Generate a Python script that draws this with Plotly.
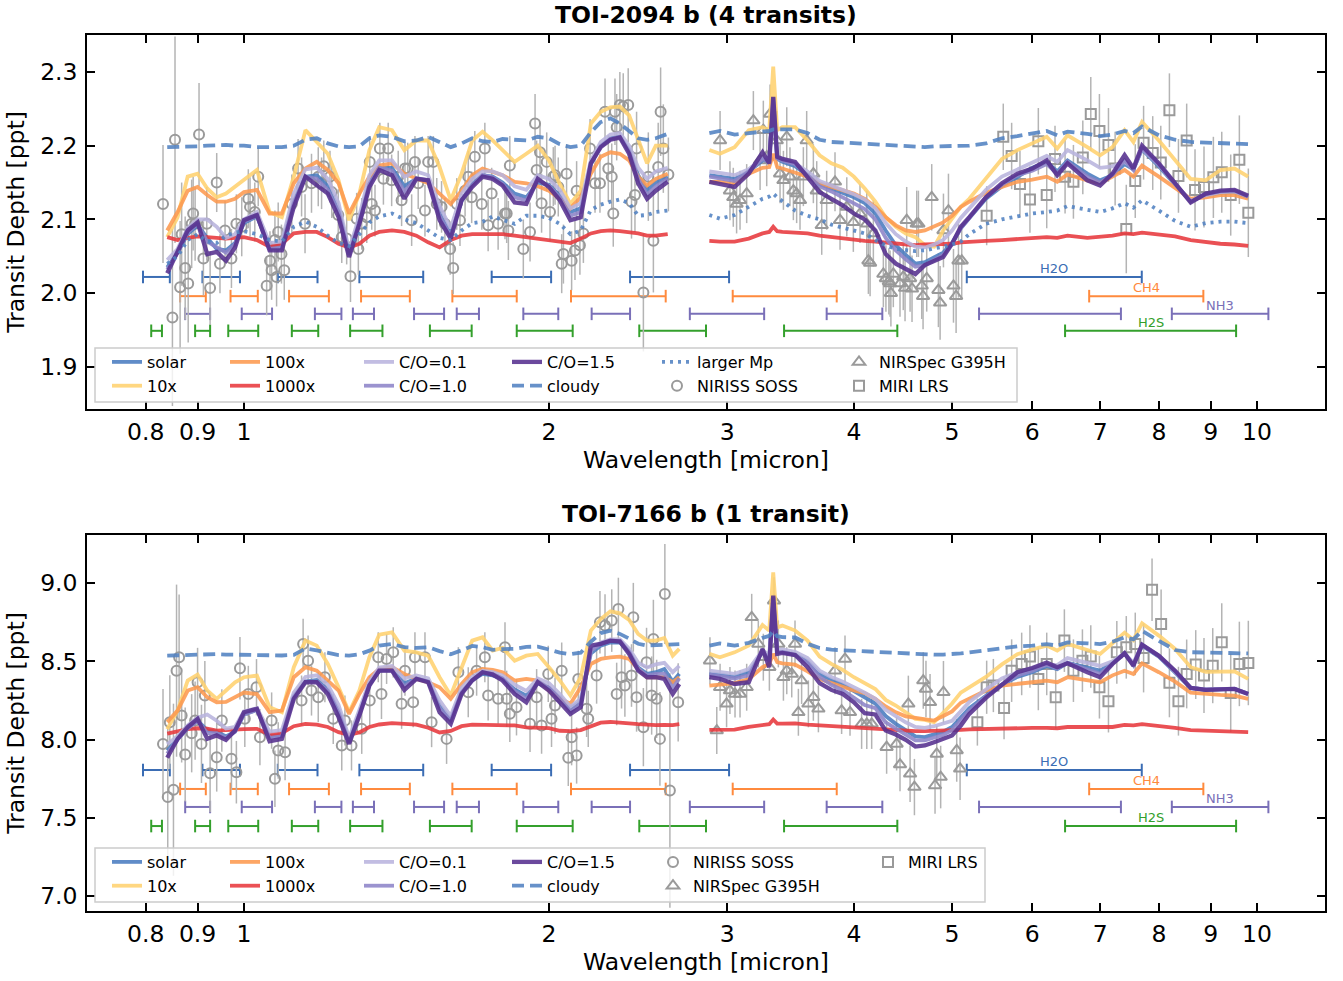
import math
import plotly.graph_objects as go

FONT = "DejaVu Sans"

# ---------------- model wavelength grids (micron) ----------------
WL_NIR_2094 = [0.84, 0.86, 0.88, 0.90, 0.92, 0.94, 0.96, 0.98, 1.00,
               1.03, 1.06, 1.09, 1.12, 1.15, 1.18, 1.21, 1.24, 1.27, 1.30, 1.33, 1.36,
               1.40, 1.44, 1.48, 1.52, 1.56, 1.60, 1.64, 1.68, 1.72, 1.76, 1.80,
               1.85, 1.90, 1.95, 2.00, 2.05, 2.10, 2.15, 2.20, 2.25, 2.30, 2.35, 2.40, 2.45, 2.50, 2.55,
               2.62]
WL_NIR_7166 = [0.84, 0.86, 0.88, 0.90, 0.92, 0.94, 0.96, 0.98, 1.00,
               1.03, 1.06, 1.09, 1.12, 1.15, 1.18, 1.21, 1.24, 1.27, 1.30, 1.33, 1.36,
               1.40, 1.44, 1.48, 1.52, 1.56, 1.60, 1.64, 1.68, 1.72, 1.76, 1.80,
               1.85, 1.90, 1.95, 2.00, 2.05, 2.10, 2.15, 2.20, 2.25, 2.30, 2.35, 2.40, 2.45, 2.50, 2.55,
               2.60, 2.65, 2.69]
WL_IR = [2.88, 2.95, 3.05, 3.15, 3.25,
         3.30, 3.33, 3.36, 3.40,
         3.50, 3.60, 3.70, 3.80, 3.90, 4.00, 4.10, 4.20, 4.30, 4.40, 4.50, 4.60,
         4.70, 4.80, 4.90, 5.00, 5.10, 5.20,
         5.40, 5.60, 5.80, 6.00, 6.20,
         6.35, 6.50,
         6.80, 7.00, 7.20, 7.40,
         7.55, 7.70,
         8.00, 8.30, 8.60, 8.90, 9.20, 9.50, 9.80]

# ---------------- TOI-2094 b models (ppt) ----------------
t2094_solar_nir = [2.035, 2.055, 2.080, 2.092, 2.075, 2.060, 2.058, 2.068, 2.095,
                   2.104, 2.062, 2.065, 2.125, 2.158, 2.160, 2.145, 2.115, 2.055, 2.098, 2.150, 2.170,
                   2.170, 2.145, 2.155, 2.152, 2.110, 2.080, 2.125, 2.148, 2.160, 2.158, 2.150,
                   2.135, 2.130, 2.150, 2.147, 2.132, 2.110, 2.115, 2.175, 2.200, 2.210, 2.212, 2.195, 2.160, 2.140, 2.150,
                   2.158]
t2094_10x_nir = [2.076, 2.103, 2.158, 2.162, 2.142, 2.130, 2.135, 2.144, 2.153,
                 2.167, 2.110, 2.103, 2.158, 2.221, 2.205, 2.189, 2.153, 2.099, 2.135, 2.194, 2.225,
                 2.221, 2.194, 2.207, 2.207, 2.171, 2.126, 2.162, 2.207, 2.219, 2.207, 2.194,
                 2.178, 2.189, 2.200, 2.180, 2.148, 2.121, 2.139, 2.230, 2.246, 2.252, 2.253, 2.241, 2.207, 2.176, 2.200,
                 2.200]
t2094_100x_nir = [2.085, 2.110, 2.139, 2.144, 2.133, 2.124, 2.124, 2.128, 2.137,
                  2.140, 2.108, 2.108, 2.149, 2.169, 2.178, 2.167, 2.149, 2.108, 2.135, 2.158, 2.173,
                  2.176, 2.162, 2.155, 2.149, 2.135, 2.121, 2.139, 2.160, 2.169, 2.164, 2.160,
                  2.151, 2.149, 2.145, 2.139, 2.128, 2.115, 2.130, 2.162, 2.185, 2.191, 2.189, 2.180, 2.158, 2.146, 2.155,
                  2.162]
t2094_1000x_nir = [2.076, 2.072, 2.075, 2.077, 2.076, 2.075, 2.074, 2.075, 2.076,
                   2.072, 2.063, 2.067, 2.081, 2.083, 2.083, 2.076, 2.067, 2.062, 2.067, 2.078, 2.083,
                   2.085, 2.083, 2.078, 2.069, 2.062, 2.072, 2.078, 2.080, 2.080, 2.080, 2.080,
                   2.078, 2.076, 2.074, 2.072, 2.071, 2.068, 2.074, 2.081, 2.084, 2.085, 2.084, 2.083, 2.081, 2.078, 2.078,
                   2.080]
t2094_co01_nir = [2.045, 2.060, 2.088, 2.100, 2.100, 2.090, 2.075, 2.080, 2.100,
                  2.110, 2.068, 2.070, 2.135, 2.168, 2.170, 2.155, 2.122, 2.058, 2.105, 2.160, 2.180,
                  2.180, 2.158, 2.165, 2.160, 2.118, 2.088, 2.135, 2.155, 2.165, 2.165, 2.160,
                  2.145, 2.140, 2.160, 2.155, 2.140, 2.115, 2.122, 2.180, 2.205, 2.215, 2.217, 2.200, 2.170, 2.155, 2.165,
                  2.170]
t2094_co10_nir = [2.032, 2.055, 2.082, 2.094, 2.070, 2.062, 2.055, 2.066, 2.097,
                  2.105, 2.060, 2.062, 2.122, 2.158, 2.155, 2.140, 2.110, 2.052, 2.096, 2.148, 2.170,
                  2.166, 2.138, 2.156, 2.153, 2.105, 2.077, 2.126, 2.146, 2.160, 2.157, 2.148,
                  2.130, 2.126, 2.153, 2.146, 2.130, 2.105, 2.110, 2.176, 2.199, 2.209, 2.212, 2.192, 2.155, 2.134, 2.145,
                  2.155]
t2094_co15_nir = [2.027, 2.056, 2.085, 2.096, 2.053, 2.056, 2.044, 2.062, 2.099,
                  2.106, 2.058, 2.058, 2.117, 2.158, 2.146, 2.135, 2.103, 2.049, 2.094, 2.144, 2.167,
                  2.160, 2.128, 2.155, 2.153, 2.099, 2.074, 2.126, 2.144, 2.158, 2.155, 2.146,
                  2.123, 2.121, 2.155, 2.144, 2.126, 2.099, 2.103, 2.176, 2.198, 2.208, 2.211, 2.189, 2.149, 2.128, 2.139,
                  2.151]
t2094_cloudy_nir = [2.198, 2.198, 2.199, 2.199, 2.200, 2.201, 2.201, 2.200, 2.200,
                    2.198, 2.198, 2.198, 2.200, 2.208, 2.210, 2.203, 2.199, 2.198, 2.199, 2.210, 2.214,
                    2.212, 2.206, 2.207, 2.212, 2.205, 2.198, 2.203, 2.210, 2.206, 2.205, 2.209,
                    2.208, 2.207, 2.212, 2.210, 2.202, 2.198, 2.200, 2.218, 2.232, 2.237, 2.230, 2.220, 2.210, 2.208, 2.210,
                    2.216]
t2094_mp_nir = [2.040, 2.050, 2.072, 2.080, 2.070, 2.068, 2.078, 2.082, 2.084,
                2.080, 2.072, 2.070, 2.090, 2.097, 2.090, 2.078, 2.068, 2.064, 2.080, 2.096, 2.104,
                2.108, 2.100, 2.095, 2.085, 2.075, 2.072, 2.085, 2.095, 2.097, 2.104, 2.100,
                2.094, 2.105, 2.105, 2.102, 2.094, 2.080, 2.085, 2.113, 2.120, 2.124, 2.127, 2.122, 2.105, 2.106, 2.110,
                2.112]

t2094_solar_ir = [2.160, 2.158, 2.155, 2.165, 2.180,
                  2.180, 2.262, 2.182, 2.178,
                  2.172, 2.160, 2.148, 2.142, 2.136, 2.130, 2.122, 2.108, 2.085, 2.065, 2.052, 2.040,
                  2.042, 2.048, 2.055, 2.068, 2.088, 2.102,
                  2.128, 2.145, 2.157, 2.170, 2.178,
                  2.165, 2.180,
                  2.162, 2.153, 2.160, 2.175,
                  2.168, 2.195,
                  2.172, 2.147, 2.125, 2.133, 2.136, 2.137, 2.130]
t2094_10x_ir = [2.194, 2.189, 2.198, 2.221, 2.225,
                2.221, 2.307, 2.221, 2.225,
                2.225, 2.207, 2.187, 2.176, 2.170, 2.158, 2.142, 2.124, 2.103, 2.090, 2.081, 2.076,
                2.065, 2.063, 2.085, 2.101, 2.117, 2.128,
                2.155, 2.182, 2.194, 2.203, 2.212,
                2.196, 2.214,
                2.198, 2.187, 2.198, 2.221,
                2.205, 2.232,
                2.207, 2.180, 2.155, 2.153, 2.167, 2.169, 2.158]
t2094_100x_ir = [2.151, 2.151, 2.149, 2.162, 2.170,
                 2.171, 2.189, 2.171, 2.169,
                 2.163, 2.158, 2.149, 2.144, 2.139, 2.135, 2.128, 2.117, 2.103, 2.092, 2.085, 2.083,
                 2.085, 2.090, 2.096, 2.105, 2.117, 2.124,
                 2.136, 2.144, 2.151, 2.154, 2.158,
                 2.151, 2.161,
                 2.153, 2.149, 2.158, 2.167,
                 2.158, 2.173,
                 2.158, 2.142, 2.128, 2.130, 2.133, 2.133, 2.128]
t2094_1000x_ir = [2.071, 2.070, 2.070, 2.074, 2.081,
                  2.083, 2.090, 2.084, 2.083,
                  2.082, 2.081, 2.078, 2.076, 2.074, 2.072, 2.071, 2.070, 2.069, 2.068, 2.066, 2.065,
                  2.066, 2.066, 2.067, 2.067, 2.069, 2.070,
                  2.071, 2.072, 2.073, 2.075, 2.076,
                  2.075, 2.078,
                  2.075, 2.076, 2.078, 2.081,
                  2.080, 2.082,
                  2.080, 2.077, 2.072, 2.069, 2.067, 2.066, 2.064]
t2094_co01_ir = [2.165, 2.163, 2.160, 2.168, 2.183,
                 2.183, 2.255, 2.185, 2.182,
                 2.176, 2.165, 2.152, 2.146, 2.140, 2.134, 2.127, 2.115, 2.095, 2.080, 2.070, 2.063,
                 2.062, 2.066, 2.072, 2.085, 2.102, 2.115,
                 2.140, 2.158, 2.168, 2.178, 2.186,
                 2.178, 2.194,
                 2.180, 2.170, 2.172, 2.178,
                 2.170, 2.196,
                 2.174, 2.148, 2.125, 2.133, 2.137, 2.138, 2.131]
t2094_co10_ir = [2.158, 2.155, 2.152, 2.165, 2.182,
                 2.178, 2.265, 2.183, 2.180,
                 2.175, 2.160, 2.145, 2.138, 2.130, 2.122, 2.114, 2.100, 2.075, 2.058, 2.046, 2.036,
                 2.038, 2.045, 2.052, 2.067, 2.088, 2.102,
                 2.130, 2.147, 2.160, 2.166, 2.175,
                 2.162, 2.178,
                 2.158, 2.150, 2.160, 2.180,
                 2.167, 2.197,
                 2.174, 2.148, 2.124, 2.134, 2.138, 2.139, 2.131]
t2094_co15_ir = [2.151, 2.148, 2.144, 2.162, 2.191,
                 2.176, 2.266, 2.185, 2.182,
                 2.178, 2.158, 2.137, 2.128, 2.119, 2.108, 2.100, 2.085, 2.053, 2.040, 2.033, 2.026,
                 2.038, 2.044, 2.049, 2.067, 2.090, 2.103,
                 2.130, 2.149, 2.162, 2.169, 2.180,
                 2.160, 2.176,
                 2.153, 2.146, 2.162, 2.187,
                 2.169, 2.200,
                 2.176, 2.149, 2.123, 2.135, 2.139, 2.140, 2.132]
t2094_cloudy_ir = [2.217, 2.220, 2.215, 2.217, 2.219,
                   2.220, 2.222, 2.222, 2.223,
                   2.222, 2.217, 2.208, 2.205, 2.204, 2.203, 2.203, 2.202, 2.201, 2.200, 2.199, 2.198,
                   2.198, 2.199, 2.199, 2.199, 2.199, 2.200,
                   2.203, 2.210, 2.213, 2.217, 2.220,
                   2.214, 2.219,
                   2.216, 2.213, 2.215, 2.220,
                   2.217, 2.226,
                   2.214, 2.208, 2.205, 2.204, 2.203, 2.202, 2.202]
t2094_mp_ir = [2.106, 2.101, 2.106, 2.117, 2.128,
               2.131, 2.135, 2.130, 2.125,
               2.112, 2.105, 2.100, 2.093, 2.089, 2.086, 2.081, 2.072, 2.065, 2.060, 2.058, 2.057,
               2.058, 2.060, 2.063, 2.066, 2.070, 2.080,
               2.094, 2.100, 2.104, 2.108, 2.110,
               2.112, 2.118,
               2.113, 2.110, 2.115, 2.122,
               2.116, 2.126,
               2.112, 2.098, 2.090, 2.095, 2.097, 2.097, 2.095]

# ---------------- TOI-7166 b models (ppt) ----------------
t7166_solar_nir = [7.93, 8.00, 8.075, 8.12, 8.06, 8.05, 8.02, 8.05, 8.16,
                   8.19, 8.02, 8.03, 8.28, 8.37, 8.38, 8.32, 8.19, 7.99, 8.17, 8.35, 8.44,
                   8.45, 8.36, 8.39, 8.37, 8.22, 8.13, 8.30, 8.38, 8.42, 8.41, 8.39,
                   8.32, 8.28, 8.36, 8.33, 8.27, 8.20, 8.24, 8.55, 8.60, 8.62, 8.62, 8.56, 8.46, 8.42, 8.43,
                   8.45, 8.37, 8.42]
t7166_10x_nir = [8.066, 8.185, 8.377, 8.415, 8.313, 8.260, 8.313, 8.366, 8.398,
                 8.408, 8.206, 8.174, 8.462, 8.632, 8.600, 8.483, 8.334, 8.174, 8.313, 8.526, 8.670,
                 8.685, 8.568, 8.557, 8.536, 8.398, 8.281, 8.462, 8.632, 8.653, 8.568, 8.585,
                 8.504, 8.536, 8.547, 8.462, 8.377, 8.281, 8.398, 8.696, 8.770, 8.819, 8.806, 8.764, 8.674, 8.632, 8.632,
                 8.649, 8.536, 8.579]
t7166_100x_nir = [8.111, 8.185, 8.313, 8.334, 8.270, 8.238, 8.240, 8.270, 8.300,
                  8.290, 8.175, 8.185, 8.398, 8.462, 8.440, 8.376, 8.313, 8.164, 8.291, 8.398, 8.451,
                  8.462, 8.419, 8.387, 8.366, 8.334, 8.260, 8.355, 8.430, 8.451, 8.445, 8.430,
                  8.376, 8.387, 8.376, 8.313, 8.260, 8.228, 8.334, 8.483, 8.515, 8.525, 8.530, 8.515, 8.451, 8.398, 8.398,
                  8.398, 8.366, 8.398]
t7166_1000x_nir = [8.038, 8.055, 8.066, 8.072, 8.070, 8.057, 8.058, 8.063, 8.066,
                   8.068, 8.032, 8.040, 8.085, 8.100, 8.095, 8.080, 8.047, 8.030, 8.045, 8.080, 8.096,
                   8.105, 8.102, 8.095, 8.075, 8.045, 8.055, 8.085, 8.095, 8.094, 8.093, 8.093,
                   8.090, 8.078, 8.075, 8.073, 8.056, 8.053, 8.060, 8.085, 8.108, 8.112, 8.110, 8.103, 8.098, 8.094, 8.092,
                   8.094, 8.092, 8.098]
t7166_co01_nir = [7.97, 8.02, 8.09, 8.14, 8.16, 8.12, 8.07, 8.08, 8.18,
                  8.20, 8.05, 8.06, 8.30, 8.40, 8.41, 8.35, 8.22, 8.01, 8.19, 8.37, 8.46,
                  8.47, 8.39, 8.41, 8.39, 8.25, 8.15, 8.33, 8.40, 8.44, 8.43, 8.41,
                  8.35, 8.31, 8.39, 8.36, 8.29, 8.21, 8.26, 8.57, 8.62, 8.64, 8.64, 8.58, 8.49, 8.46, 8.48,
                  8.49, 8.43, 8.47]
t7166_co10_nir = [7.91, 8.00, 8.07, 8.12, 8.04, 8.04, 8.01, 8.05, 8.16,
                  8.19, 8.01, 8.02, 8.27, 8.37, 8.37, 8.31, 8.17, 7.98, 8.16, 8.35, 8.44,
                  8.44, 8.34, 8.39, 8.37, 8.20, 8.12, 8.30, 8.38, 8.43, 8.42, 8.39,
                  8.31, 8.26, 8.37, 8.33, 8.26, 8.18, 8.23, 8.57, 8.61, 8.63, 8.63, 8.56, 8.45, 8.41, 8.42,
                  8.42, 8.33, 8.39]
t7166_co15_nir = [7.883, 8.004, 8.079, 8.132, 8.004, 8.026, 7.998, 8.057, 8.174,
                  8.196, 7.989, 8.004, 8.260, 8.366, 8.366, 8.291, 8.143, 7.972, 8.153, 8.345, 8.440,
                  8.440, 8.317, 8.387, 8.366, 8.174, 8.100, 8.291, 8.377, 8.430, 8.415, 8.377,
                  8.291, 8.238, 8.366, 8.313, 8.238, 8.164, 8.206, 8.600, 8.611, 8.632, 8.626, 8.547, 8.440, 8.398, 8.398,
                  8.387, 8.291, 8.355]
t7166_cloudy_nir = [8.536, 8.538, 8.540, 8.544, 8.547, 8.546, 8.543, 8.542, 8.540,
                    8.538, 8.536, 8.537, 8.541, 8.582, 8.570, 8.553, 8.540, 8.536, 8.545, 8.568, 8.600,
                    8.610, 8.590, 8.585, 8.590, 8.565, 8.545, 8.570, 8.598, 8.590, 8.573, 8.578,
                    8.580, 8.592, 8.594, 8.575, 8.555, 8.545, 8.555, 8.625, 8.680, 8.695, 8.675, 8.645, 8.612, 8.600, 8.602,
                    8.606, 8.608, 8.610]

t7166_solar_ir = [8.420, 8.415, 8.400, 8.430, 8.560,
                  8.520, 8.900, 8.560, 8.560,
                  8.545, 8.500, 8.420, 8.380, 8.350, 8.310, 8.270, 8.230, 8.150, 8.100, 8.060, 8.020,
                  8.015, 8.030, 8.050, 8.080, 8.140, 8.200,
                  8.280, 8.350, 8.400, 8.430, 8.470,
                  8.450, 8.490,
                  8.460, 8.440, 8.490, 8.550,
                  8.480, 8.600,
                  8.530, 8.430, 8.330, 8.318, 8.322, 8.324, 8.292]
t7166_10x_ir = [8.547, 8.526, 8.557, 8.600, 8.732,
                8.696, 9.068, 8.717, 8.728,
                8.696, 8.632, 8.530, 8.483, 8.445, 8.398, 8.362, 8.323, 8.253, 8.217, 8.174, 8.132,
                8.126, 8.111, 8.170, 8.230, 8.300, 8.335,
                8.400, 8.480, 8.545, 8.575, 8.600,
                8.568, 8.611,
                8.572, 8.547, 8.615, 8.683,
                8.636, 8.743,
                8.664, 8.579, 8.462, 8.432, 8.434, 8.436, 8.387]
t7166_100x_ir = [8.345, 8.351, 8.360, 8.387, 8.462,
                 8.483, 8.547, 8.494, 8.487,
                 8.479, 8.436, 8.387, 8.360, 8.338, 8.313, 8.296, 8.260, 8.211, 8.174, 8.148, 8.140,
                 8.128, 8.121, 8.150, 8.180, 8.235, 8.260,
                 8.313, 8.345, 8.358, 8.366, 8.376,
                 8.366, 8.398,
                 8.376, 8.366, 8.410, 8.440,
                 8.419, 8.487,
                 8.430, 8.370, 8.300, 8.290, 8.285, 8.281, 8.260]
t7166_1000x_ir = [8.062, 8.062, 8.063, 8.080, 8.095,
                  8.098, 8.128, 8.102, 8.102,
                  8.103, 8.095, 8.090, 8.086, 8.085, 8.080, 8.072, 8.068, 8.066, 8.063, 8.058, 8.054,
                  8.053, 8.054, 8.055, 8.057, 8.062, 8.065,
                  8.068, 8.072, 8.074, 8.074, 8.074,
                  8.072, 8.080,
                  8.078, 8.077, 8.080, 8.094,
                  8.090, 8.098,
                  8.088, 8.074, 8.060, 8.056, 8.054, 8.052, 8.047]
t7166_co01_ir = [8.440, 8.430, 8.420, 8.450, 8.570,
                 8.540, 8.880, 8.570, 8.575,
                 8.560, 8.520, 8.440, 8.400, 8.370, 8.335, 8.300, 8.260, 8.190, 8.150, 8.110, 8.080,
                 8.075, 8.085, 8.100, 8.120, 8.180, 8.240,
                 8.320, 8.390, 8.430, 8.455, 8.480,
                 8.475, 8.520,
                 8.490, 8.470, 8.500, 8.550,
                 8.490, 8.605,
                 8.535, 8.435, 8.332, 8.320, 8.323, 8.325, 8.293]
t7166_co10_ir = [8.415, 8.405, 8.390, 8.410, 8.565,
                 8.500, 8.910, 8.555, 8.560,
                 8.540, 8.490, 8.400, 8.350, 8.315, 8.270, 8.220, 8.200, 8.110, 8.070, 8.030, 7.995,
                 7.995, 8.010, 8.030, 8.060, 8.120, 8.185,
                 8.275, 8.350, 8.410, 8.440, 8.480,
                 8.455, 8.490,
                 8.450, 8.420, 8.485, 8.550,
                 8.475, 8.605,
                 8.533, 8.435, 8.330, 8.318, 8.322, 8.324, 8.291]
t7166_co15_ir = [8.398, 8.387, 8.355, 8.366, 8.578,
                 8.462, 8.919, 8.547, 8.553,
                 8.540, 8.462, 8.360, 8.317, 8.291, 8.238, 8.168, 8.160, 8.057, 8.032, 7.998, 7.955,
                 7.962, 7.983, 8.004, 8.026, 8.089, 8.164,
                 8.266, 8.351, 8.430, 8.457, 8.491,
                 8.462, 8.487,
                 8.430, 8.398, 8.483, 8.551,
                 8.472, 8.606,
                 8.536, 8.440, 8.330, 8.317, 8.321, 8.323, 8.291]
t7166_cloudy_ir = [8.600, 8.614, 8.600, 8.618, 8.650,
                   8.662, 8.695, 8.660, 8.654,
                   8.652, 8.612, 8.585, 8.574, 8.570, 8.566, 8.562, 8.558, 8.555, 8.552, 8.548, 8.543,
                   8.543, 8.542, 8.543, 8.545, 8.550, 8.556,
                   8.568, 8.585, 8.595, 8.600, 8.610,
                   8.600, 8.620,
                   8.615, 8.610, 8.625, 8.653,
                   8.640, 8.695,
                   8.630, 8.572, 8.558, 8.555, 8.553, 8.552, 8.550]

# ---------------- observations: TOI-2094 b ----------------
t2094_soss_wl = [0.832, 0.850, 0.855, 0.865, 0.868, 0.875, 0.881, 0.888, 0.891, 0.895,
                 0.903, 0.912, 0.919, 0.926, 0.940, 0.947, 0.958, 0.972, 0.983, 0.995,
                 1.010, 1.014, 1.025, 1.033, 1.053, 1.061, 1.065, 1.073, 1.077, 1.081,
                 1.089, 1.096, 1.115, 1.131, 1.140, 1.149, 1.166, 1.184, 1.193, 1.199,
                 1.216, 1.221, 1.239, 1.249, 1.263, 1.274, 1.292, 1.297, 1.307, 1.322,
                 1.331, 1.337, 1.347, 1.362, 1.373, 1.388, 1.399, 1.420, 1.431, 1.442,
                 1.451, 1.464, 1.475, 1.486, 1.509, 1.520, 1.538, 1.550, 1.567, 1.579,
                 1.598, 1.609, 1.622, 1.634, 1.653, 1.665, 1.678, 1.690, 1.717, 1.729,
                 1.742, 1.756, 1.782, 1.810, 1.817, 1.824, 1.830, 1.887, 1.916, 1.938,
                 1.945, 1.960, 1.967, 1.990, 2.005, 2.020, 2.028, 2.043, 2.059, 2.067,
                 2.082, 2.106, 2.122, 2.130, 2.146, 2.163, 2.196, 2.221, 2.246, 2.272,
                 2.289, 2.307, 2.315, 2.324, 2.333, 2.350, 2.368, 2.395, 2.413, 2.432,
                 2.441, 2.479, 2.507, 2.536, 2.564, 2.578, 2.594, 2.624]
t2094_soss_depth = [2.121, 1.967, 2.208, 2.008, 2.080, 2.034, 2.013, 2.094, 2.108, 2.094,
                    2.215, 2.047, 2.094, 2.007, 2.150, 2.040, 2.085, 2.047, 2.094, 2.090,
                    2.128, 2.117, 2.110, 2.158, 2.010, 2.044, 2.031, 2.072, 2.022, 2.083,
                    2.053, 2.031, 2.121, 2.169, 2.144, 2.094, 2.149, 2.158, 2.149, 2.172,
                    2.158, 2.137, 2.106, 2.076, 2.074, 2.023, 2.101, 2.060, 2.094, 2.103,
                    2.178, 2.121, 2.112, 2.196, 2.155, 2.196, 2.153, 2.158, 2.126, 2.169,
                    2.169, 2.099, 2.178, 2.149, 2.112, 2.178, 2.178, 2.121, 2.117, 2.094,
                    2.060, 2.034, 2.121, 2.099, 2.139, 2.158, 2.130, 2.185, 2.121, 2.196,
                    2.092, 2.135, 2.094, 2.108, 2.108, 2.085, 2.173, 2.060, 2.083, 2.230,
                    2.167, 2.191, 2.122, 2.178, 2.110, 2.158, 2.160, 2.144, 2.040, 2.053,
                    2.162, 2.044, 2.058, 2.139, 2.065, 2.081, 2.196, 2.149, 2.149, 2.246,
                    2.169, 2.158, 2.108, 2.246, 2.225, 2.255, 2.253, 2.255, 2.124, 2.133,
                    2.196, 2.001, 2.158, 2.071, 2.171, 2.246, 2.196, 2.161]
t2094_soss_err = [0.08, 0.12, 0.14, 0.09, 0.07, 0.07, 0.08, 0.06, 0.05, 0.05,
                  0.07, 0.05, 0.05, 0.05, 0.04, 0.04, 0.04, 0.04, 0.04, 0.04,
                  0.04, 0.04, 0.04, 0.04, 0.04, 0.04, 0.04, 0.04, 0.04, 0.04,
                  0.04, 0.04, 0.04, 0.04, 0.04, 0.04, 0.04, 0.04, 0.035, 0.035,
                  0.035, 0.035, 0.035, 0.035, 0.035, 0.035, 0.035, 0.035, 0.035, 0.035,
                  0.035, 0.035, 0.035, 0.035, 0.035, 0.035, 0.035, 0.035, 0.035, 0.035,
                  0.035, 0.035, 0.035, 0.035, 0.035, 0.035, 0.035, 0.035, 0.035, 0.035,
                  0.035, 0.035, 0.035, 0.035, 0.035, 0.035, 0.035, 0.035, 0.035, 0.035,
                  0.035, 0.035, 0.035, 0.035, 0.04, 0.04, 0.04, 0.04, 0.04, 0.04,
                  0.04, 0.04, 0.04, 0.04, 0.04, 0.04, 0.04, 0.04, 0.04, 0.04,
                  0.04, 0.04, 0.04, 0.04, 0.04, 0.04, 0.04, 0.04, 0.04, 0.045,
                  0.045, 0.045, 0.045, 0.045, 0.045, 0.045, 0.045, 0.05, 0.05, 0.05,
                  0.05, 0.08, 0.06, 0.07, 0.06, 0.06, 0.06, 0.05]

t2094_g395h_wl = [2.951, 3.018, 3.041, 3.064, 3.088, 3.135, 3.183, 3.232, 3.256, 3.281,
                  3.306, 3.357, 3.382, 3.408, 3.434, 3.459, 3.486, 3.512, 3.539, 3.566,
                  3.593, 3.648, 3.676, 3.718, 3.760, 3.832, 3.876, 3.936, 3.995, 4.056,
                  4.119, 4.134, 4.150, 4.181, 4.277, 4.302, 4.331, 4.343, 4.351, 4.375,
                  4.442, 4.475, 4.493, 4.510, 4.545, 4.565, 4.614, 4.632, 4.667, 4.681,
                  4.720, 4.774, 4.847, 4.866, 4.903, 4.959, 5.016, 5.046, 5.073, 5.111]
t2094_g395h_depth = [2.207, 2.139, 2.130, 2.121, 2.126, 2.135, 2.234, 2.180, 2.221, 2.185,
                     2.243, 2.207, 2.162, 2.153, 2.212, 2.158, 2.139, 2.135, 2.126, 2.158,
                     2.207, 2.162, 2.139, 2.092, 2.126, 2.151, 2.099, 2.117, 2.096, 2.108,
                     2.094, 2.044, 2.041, 2.081, 2.026, 2.020, 2.016, 2.013, 2.000, 2.026,
                     2.013, 2.022, 2.007, 2.099, 2.020, 2.006, 2.094, 2.094, 2.010, 1.996,
                     2.020, 2.130, 2.004, 1.987, 2.085, 2.112, 2.010, 1.996, 2.044, 2.044]
t2094_g395h_err = [0.04] * 30 + [0.045] * 22 + [0.05] * 8

t2094_miri_wl = [5.409, 5.617, 5.725, 5.834, 5.968, 6.083, 6.200, 6.318, 6.464, 6.588,
                 6.730, 6.853, 6.989, 7.134, 7.243, 7.429, 7.582, 7.727, 7.889, 8.035,
                 8.194, 8.364, 8.522, 8.685, 8.864, 9.055, 9.229, 9.419, 9.606, 9.804]
t2094_miri_depth = [2.105, 2.212, 2.186, 2.148, 2.127, 2.206, 2.133, 2.182, 2.158, 2.151,
                    2.184, 2.243, 2.220, 2.201, 2.169, 2.087, 2.152, 2.204, 2.190, 2.177,
                    2.248, 2.159, 2.207, 2.140, 2.144, 2.157, 2.164, 2.133, 2.181, 2.109]
t2094_miri_err = [0.04, 0.045, 0.045, 0.045, 0.045, 0.045, 0.045, 0.045, 0.05, 0.05,
                  0.05, 0.05, 0.05, 0.05, 0.05, 0.06, 0.05, 0.05, 0.05, 0.05,
                  0.05, 0.05, 0.05, 0.055, 0.055, 0.055, 0.055, 0.055, 0.06, 0.06]

# ---------------- observations: TOI-7166 b ----------------
t7166_soss_wl = [0.832, 0.841, 0.845, 0.852, 0.858, 0.863, 0.868, 0.875, 0.888, 0.895,
                 0.900, 0.908, 0.915, 0.926, 0.940, 0.951, 0.972, 0.983, 0.991, 1.002,
                 1.010, 1.029, 1.037, 1.065, 1.073, 1.081, 1.098, 1.140, 1.144, 1.157,
                 1.166, 1.184, 1.202, 1.225, 1.249, 1.258, 1.277, 1.307, 1.331, 1.357,
                 1.367, 1.383, 1.404, 1.431, 1.442, 1.469, 1.475, 1.509, 1.532, 1.585,
                 1.628, 1.665, 1.697, 1.729, 1.742, 1.782, 1.810, 1.817, 1.830, 1.858,
                 1.916, 1.945, 1.967, 1.997, 2.012, 2.028, 2.059, 2.090, 2.106, 2.130,
                 2.138, 2.179, 2.187, 2.229, 2.246, 2.272, 2.307, 2.333, 2.342, 2.359,
                 2.377, 2.413, 2.423, 2.441, 2.479, 2.497, 2.526, 2.536, 2.555, 2.574,
                 2.603, 2.633, 2.683]
t7166_soss_depth = [7.972, 7.632, 8.111, 7.679, 8.440, 8.526, 8.153, 7.904, 8.040, 8.121,
                    8.366, 7.972, 8.281, 7.785, 7.887, 8.121, 7.877, 7.791, 8.455, 8.132,
                    8.291, 8.334, 8.015, 8.121, 7.749, 7.930, 7.919, 8.249, 8.611, 8.504,
                    8.313, 8.270, 8.398, 8.132, 7.962, 8.121, 7.962, 8.068, 8.249, 8.526,
                    8.291, 8.515, 8.557, 8.228, 8.440, 8.238, 8.526, 8.526, 8.111, 8.004,
                    8.430, 8.302, 8.440, 8.526, 8.281, 8.260, 8.589, 8.260, 8.164, 8.206,
                    8.100, 8.270, 8.089, 8.419, 8.132, 8.217, 8.440, 7.883, 8.015, 7.898,
                    8.387, 8.196, 8.132, 8.409, 8.749, 8.728, 8.760, 8.291, 8.834, 8.398,
                    8.345, 8.409, 8.781, 8.270, 8.079, 8.494, 8.281, 8.643, 8.260, 8.004,
                    8.930, 7.674, 8.238]
t7166_soss_err = [0.35, 0.45, 0.30, 0.55, 0.55, 0.40, 0.30, 0.30, 0.25, 0.25,
                  0.22, 0.25, 0.22, 0.25, 0.22, 0.20, 0.20, 0.20, 0.20, 0.18,
                  0.18, 0.18, 0.18, 0.18, 0.18, 0.18, 0.18, 0.16, 0.16, 0.16,
                  0.16, 0.16, 0.16, 0.16, 0.16, 0.16, 0.16, 0.16, 0.16, 0.16,
                  0.16, 0.16, 0.16, 0.16, 0.16, 0.16, 0.16, 0.16, 0.16, 0.16,
                  0.16, 0.16, 0.16, 0.16, 0.16, 0.16, 0.16, 0.18, 0.18, 0.18,
                  0.18, 0.18, 0.18, 0.18, 0.18, 0.18, 0.18, 0.18, 0.18, 0.18,
                  0.18, 0.18, 0.18, 0.18, 0.20, 0.20, 0.20, 0.20, 0.20, 0.20,
                  0.20, 0.20, 0.22, 0.22, 0.25, 0.22, 0.25, 0.25, 0.25, 0.30,
                  0.32, 0.75, 0.25]

t7166_g395h_wl = [2.884, 2.929, 2.951, 2.995, 3.018, 3.053, 3.088, 3.135, 3.171, 3.219,
                  3.256, 3.301, 3.336, 3.369, 3.408, 3.434, 3.473, 3.499, 3.526, 3.552,
                  3.607, 3.648, 3.690, 3.832, 3.890, 3.920, 3.965, 4.071, 4.119, 4.165,
                  4.309, 4.408, 4.442, 4.527, 4.545, 4.590, 4.683, 4.712, 4.756, 4.810,
                  4.829, 4.872, 4.903, 5.053, 5.092]
t7166_g395h_depth = [8.504, 8.057, 8.334, 8.228, 8.313, 8.291, 8.291, 8.334, 8.781, 8.611,
                     8.526, 8.462, 8.887, 8.611, 8.398, 8.440, 8.419, 8.611, 8.174, 8.377,
                     8.228, 8.270, 8.196, 8.440, 8.185, 8.515, 8.174, 8.100, 8.100, 8.100,
                     7.951, 7.972, 7.840, 8.228, 7.781, 7.696, 8.377, 8.323, 8.238, 7.706,
                     7.908, 7.760, 8.302, 7.930, 7.813]
t7166_g395h_err = [0.15] * 27 + [0.16] * 3 + [0.17] * 3 + [0.18] * 8 + [0.20] * 4

t7166_miri_wl = [5.296, 5.409, 5.492, 5.627, 5.725, 5.857, 5.968, 6.083, 6.200, 6.328,
                 6.454, 6.588, 6.724, 6.853, 6.989, 7.134, 7.271, 7.429, 7.582, 7.727,
                 7.877, 8.041, 8.194, 8.364, 8.522, 8.699, 8.864, 9.042, 9.229, 9.419,
                 9.606, 9.804]
t7166_miri_depth = [8.111, 8.334, 8.345, 8.202, 8.440, 8.483, 8.530, 8.387, 8.483, 8.270,
                    8.632, 8.440, 8.504, 8.530, 8.334, 8.245, 8.557, 8.589, 8.611, 8.521,
                    8.957, 8.738, 8.362, 8.245, 8.419, 8.479, 8.409, 8.472, 8.621, 8.298,
                    8.483, 8.489]
t7166_miri_err = [0.15, 0.17, 0.17, 0.20, 0.20, 0.20, 0.20, 0.20, 0.20, 0.20,
                  0.20, 0.20, 0.20, 0.20, 0.20, 0.20, 0.20, 0.20, 0.20, 0.22,
                  0.20, 0.22, 0.22, 0.22, 0.22, 0.22, 0.24, 0.24, 0.25, 0.25,
                  0.27, 0.27]

# ---------------- molecular band ranges (micron) ----------------
h2o_bands = [(0.795, 0.845), (0.910, 0.991), (1.080, 1.182), (1.300, 1.503),
             (1.756, 2.010), (2.405, 3.012), (5.170, 7.695)]
ch4_bands = [(0.865, 0.917), (0.970, 1.032), (1.108, 1.213), (1.305, 1.458),
             (1.606, 1.859), (2.103, 2.608), (3.037, 3.847), (6.828, 8.851)]
nh3_bands = [(0.875, 0.926), (0.995, 1.066), (1.175, 1.248), (1.281, 1.344),
             (1.472, 1.576), (1.622, 1.706), (1.887, 2.043), (2.204, 2.405),
             (2.755, 3.262), (3.760, 4.267), (5.316, 7.339), (8.239, 10.261)]
h2s_bands = [(0.810, 0.830), (0.895, 0.926), (0.965, 1.033), (1.115, 1.184),
             (1.273, 1.370), (1.526, 1.678), (1.859, 2.111), (2.456, 2.858),
             (3.413, 4.415), (6.464, 9.535)]
band_levels_2094 = [2.022, 1.996, 1.972, 1.949]
band_levels_7166 = [7.805, 7.684, 7.569, 7.447]

# ---------------- styling ----------------
C_SOLAR = "#4a7cc0"
C_10X = "#ffd270"
C_100X = "#fd9a50"
C_1000X = "#e8393d"
C_CO01 = "#b9b4de"
C_CO10 = "#8d84c8"
C_CO15 = "#56308f"
C_CLOUDY = "#5282c2"
C_DATA = "#9a9a9a"
C_ERR = "#b4b4b4"
BAND_COLORS = ["#3b6db4", "#ff8a3d", "#7a70b8", "#34a02c"]
BAND_NAMES = ["H2O", "CH4", "NH3", "H2S"]
TXT = 23.5
LW = 3.8

fig = go.Figure()

# plot area pixel geometry helpers (paper fractions)
FIG_W, FIG_H = 1343, 981
ML, MR, MT, MB = 87, 18, 35, 70
PW = FIG_W - ML - MR
PH = FIG_H - MT - MB


def px_x(px):
    return (px - ML) / PW


def px_y(py):
    return (FIG_H - MB - py) / PH


def add_data(panel, legend, wl, depth, err, name, symbol, size, rank):
    fig.add_trace(go.Scatter(
        x=wl, y=depth, mode="markers", name=name,
        marker=dict(symbol=symbol, size=size, color=C_DATA,
                    line=dict(color=C_DATA, width=2)),
        error_y=dict(type="data", array=err, color=C_ERR, thickness=1.5, width=0),
        xaxis="x" if panel == 1 else "x2", yaxis="y" if panel == 1 else "y2",
        legend=legend, legendrank=rank, showlegend=True))


def add_model(panel, legend, wl_a, ya, wl_b, yb, name, color, width, dash, rank):
    fig.add_trace(go.Scatter(
        x=list(wl_a) + [None] + list(wl_b), y=list(ya) + [None] + list(yb),
        mode="lines", name=name, opacity=0.88,
        line=dict(color=color, width=width, dash=dash),
        xaxis="x" if panel == 1 else "x2", yaxis="y" if panel == 1 else "y2",
        legend=legend, legendrank=rank, connectgaps=False))


def add_bands(panel, levels):
    xa = "x" if panel == 1 else "x2"
    ya = "y" if panel == 1 else "y2"
    for bands, level, color in zip([h2o_bands, ch4_bands, nh3_bands, h2s_bands], levels, BAND_COLORS):
        xs, ys = [], []
        for lo, hi in bands:
            xs += [lo, hi, None]
            ys += [level, level, None]
        fig.add_trace(go.Scatter(
            x=xs, y=ys, mode="lines+markers", showlegend=False, hoverinfo="skip",
            line=dict(color=color, width=2),
            marker=dict(symbol="line-ns", size=9, color=color, line=dict(color=color, width=2)),
            xaxis=xa, yaxis=ya))
    for bands, level, color, name in zip([h2o_bands, ch4_bands, nh3_bands, h2s_bands], levels, BAND_COLORS, BAND_NAMES):
        lo, hi = bands[-1]
        fig.add_annotation(x=math.log10(math.sqrt(lo * hi)), y=level, xref=xa, yref=ya,
                           text=name, showarrow=False, yanchor="bottom", yshift=-1,
                           font=dict(family=FONT, size=13, color=color))


# ---- TOI-2094 b panel ----
add_bands(1, band_levels_2094)
add_data(1, "legend5", t2094_soss_wl, t2094_soss_depth, t2094_soss_err, "NIRISS SOSS", "circle-open", 10, 2)
add_data(1, "legend6", t2094_g395h_wl, t2094_g395h_depth, t2094_g395h_err, "NIRSpec G395H", "triangle-up-open", 11, 1)
add_data(1, "legend6", t2094_miri_wl, t2094_miri_depth, t2094_miri_err, "MIRI LRS", "square-open", 10, 2)
add_model(1, "legend", WL_NIR_2094, t2094_solar_nir, WL_IR, t2094_solar_ir, "solar", C_SOLAR, LW, "solid", 1)
add_model(1, "legend", WL_NIR_2094, t2094_10x_nir, WL_IR, t2094_10x_ir, "10x", C_10X, LW, "solid", 2)
add_model(1, "legend2", WL_NIR_2094, t2094_100x_nir, WL_IR, t2094_100x_ir, "100x", C_100X, LW, "solid", 1)
add_model(1, "legend2", WL_NIR_2094, t2094_1000x_nir, WL_IR, t2094_1000x_ir, "1000x", C_1000X, LW, "solid", 2)
add_model(1, "legend3", WL_NIR_2094, t2094_co01_nir, WL_IR, t2094_co01_ir, "C/O=0.1", C_CO01, LW, "solid", 1)
add_model(1, "legend3", WL_NIR_2094, t2094_co10_nir, WL_IR, t2094_co10_ir, "C/O=1.0", C_CO10, LW, "solid", 2)
add_model(1, "legend4", WL_NIR_2094, t2094_co15_nir, WL_IR, t2094_co15_ir, "C/O=1.5", C_CO15, 4.3, "solid", 1)
add_model(1, "legend4", WL_NIR_2094, t2094_cloudy_nir, WL_IR, t2094_cloudy_ir, "cloudy", C_CLOUDY, LW, "12px,6px", 2)
add_model(1, "legend5", WL_NIR_2094, t2094_mp_nir, WL_IR, t2094_mp_ir, "larger Mp", C_CLOUDY, LW, "3px,5px", 1)

# ---- TOI-7166 b panel ----
add_bands(2, band_levels_7166)
add_data(2, "legend11", t7166_soss_wl, t7166_soss_depth, t7166_soss_err, "NIRISS SOSS", "circle-open", 10, 1)
add_data(2, "legend11", t7166_g395h_wl, t7166_g395h_depth, t7166_g395h_err, "NIRSpec G395H", "triangle-up-open", 11, 2)
add_data(2, "legend12", t7166_miri_wl, t7166_miri_depth, t7166_miri_err, "MIRI LRS", "square-open", 10, 1)
add_model(2, "legend7", WL_NIR_7166, t7166_solar_nir, WL_IR, t7166_solar_ir, "solar", C_SOLAR, LW, "solid", 1)
add_model(2, "legend7", WL_NIR_7166, t7166_10x_nir, WL_IR, t7166_10x_ir, "10x", C_10X, LW, "solid", 2)
add_model(2, "legend8", WL_NIR_7166, t7166_100x_nir, WL_IR, t7166_100x_ir, "100x", C_100X, LW, "solid", 1)
add_model(2, "legend8", WL_NIR_7166, t7166_1000x_nir, WL_IR, t7166_1000x_ir, "1000x", C_1000X, LW, "solid", 2)
add_model(2, "legend9", WL_NIR_7166, t7166_co01_nir, WL_IR, t7166_co01_ir, "C/O=0.1", C_CO01, LW, "solid", 1)
add_model(2, "legend9", WL_NIR_7166, t7166_co10_nir, WL_IR, t7166_co10_ir, "C/O=1.0", C_CO10, LW, "solid", 2)
add_model(2, "legend10", WL_NIR_7166, t7166_co15_nir, WL_IR, t7166_co15_ir, "C/O=1.5", C_CO15, 4.3, "solid", 1)
add_model(2, "legend10", WL_NIR_7166, t7166_cloudy_nir, WL_IR, t7166_cloudy_ir, "cloudy", C_CLOUDY, LW, "12px,6px", 2)

# ---------------- axes ----------------
xticks = [0.8, 0.9, 1, 2, 3, 4, 5, 6, 7, 8, 9, 10]
xticktext = ["0.8", "0.9", "1", "2", "3", "4", "5", "6", "7", "8", "9", "10"]
xrange_log = [math.log10(0.70), math.log10(11.67)]

axis_common = dict(showline=True, linecolor="black", linewidth=1.5, mirror="ticks",
                   ticks="inside", ticklen=8, tickwidth=1.5, tickcolor="black",
                   showgrid=False, zeroline=False,
                   tickfont=dict(family=FONT, size=TXT, color="black"))
title_font = dict(family=FONT, size=TXT, color="black")

top_dom = [px_y(409), 1.0]
bot_dom = [0.0, px_y(535)]

fig.update_layout(
    xaxis=dict(type="log", range=xrange_log, tickvals=xticks, ticktext=xticktext,
               anchor="y", domain=[0, 1], ticklabelstandoff=1,
               title=dict(text="Wavelength [micron]", standoff=5, font=title_font), **axis_common),
    yaxis=dict(range=[1.843, 2.350], tickvals=[1.9, 2.0, 2.1, 2.2, 2.3],
               ticktext=["1.9", "2.0", "2.1", "2.2", "2.3"], anchor="x", domain=top_dom,
               ticklabelstandoff=3,
               title=dict(text="Transit Depth [ppt]", standoff=9, font=title_font), **axis_common),
    xaxis2=dict(type="log", range=xrange_log, tickvals=xticks, ticktext=xticktext,
                anchor="y2", domain=[0, 1], ticklabelstandoff=1,
                title=dict(text="Wavelength [micron]", standoff=5, font=title_font), **axis_common),
    yaxis2=dict(range=[6.904, 9.307], tickvals=[7.0, 7.5, 8.0, 8.5, 9.0],
                ticktext=["7.0", "7.5", "8.0", "8.5", "9.0"], anchor="x2", domain=bot_dom,
                ticklabelstandoff=3,
                title=dict(text="Transit Depth [ppt]", standoff=9, font=title_font), **axis_common),
)

# ---------------- legends: one per column, grouped inside a framed box ----------------
leg_common = dict(orientation="v", xanchor="left", yanchor="top", bgcolor="rgba(0,0,0,0)",
                  borderwidth=0, font=dict(family=FONT, size=16, color="black"),
                  tracegroupgap=0, itemwidth=30)
top_cols = [107, 225, 359, 507, 657, 839]
bot_cols = [107, 225, 359, 507, 653, 868]
legend_layout = {}
for i, c in enumerate(top_cols):
    key = "legend" if i == 0 else f"legend{i + 1}"
    legend_layout[key] = dict(x=px_x(c), y=px_y(345), **leg_common)
for i, c in enumerate(bot_cols):
    legend_layout[f"legend{i + 7}"] = dict(x=px_x(c), y=px_y(845), **leg_common)
fig.update_layout(**legend_layout)

fig.add_shape(type="rect", xref="paper", yref="paper",
              x0=px_x(95), x1=px_x(1017), y0=px_y(402), y1=px_y(348),
              line=dict(color="#cccccc", width=1.5), fillcolor="rgba(255,255,255,0.8)", layer="above")
fig.add_shape(type="rect", xref="paper", yref="paper",
              x0=px_x(95), x1=px_x(985), y0=px_y(902), y1=px_y(848),
              line=dict(color="#cccccc", width=1.5), fillcolor="rgba(255,255,255,0.8)", layer="above")

# ---------------- panel titles ----------------
fig.add_annotation(x=0.5, y=px_y(0), xref="paper", yref="paper", showarrow=False,
                   text="<b>TOI-2094 b (4 transits)</b>", yanchor="top", borderpad=0,
                   font=title_font)
fig.add_annotation(x=0.5, y=px_y(499), xref="paper", yref="paper", showarrow=False,
                   text="<b>TOI-7166 b (1 transit)</b>", yanchor="top", borderpad=0,
                   font=title_font)

fig.update_layout(width=FIG_W, height=FIG_H, autosize=False,
                  margin=dict(l=ML, r=MR, t=MT, b=MB),
                  paper_bgcolor="white", plot_bgcolor="white",
                  font=dict(family=FONT))

fig.write_html("out.html")
